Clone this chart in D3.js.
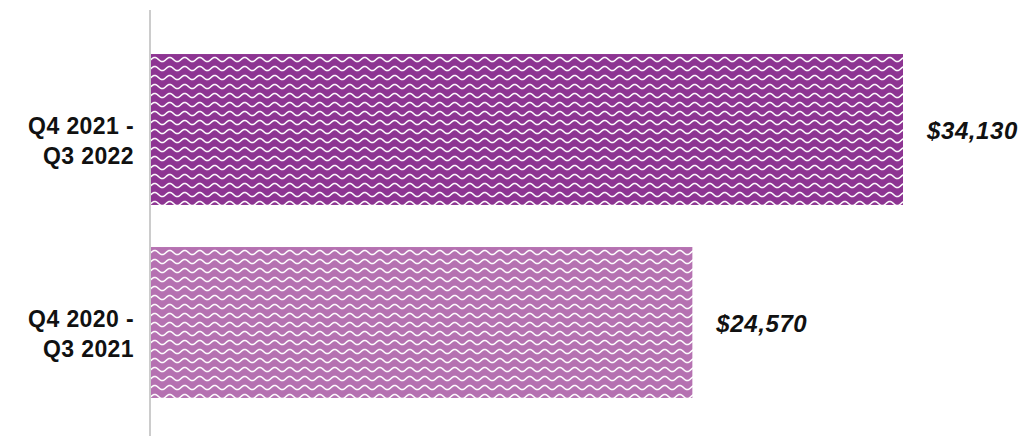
<!DOCTYPE html>
<html>
<head>
<meta charset="utf-8">
<script src="https://cdn.jsdelivr.net/npm/d3@7"></script>
<style>
  html, body { margin: 0; padding: 0; background: #fff; }
  svg { display: block; }
</style>
</head>
<body>
<svg id="chart" width="1033" height="436"></svg>
<script>
const categories = [["Q4 2021 -", "Q3 2022"], ["Q4 2020 -", "Q3 2021"]];
const categoryKeys = ["2022", "2021"];
const values = [34130, 24570];
const valueLabels = ["$34,130", "$24,570"];
const barColors = ["#8d3492", "#b571b1"];

const svg = d3.select("#chart");

const x = d3.scaleLinear().domain([0, 34130]).range([151, 903]);
const y = d3.scaleBand().domain(categoryKeys).range([33, 419]).paddingInner(0.218).paddingOuter(0.109);

// wave patterns
const defs = svg.append("defs");
const pw = 15, ph = 9;
const amp = 2.1, mid = 4.5;
const pts = d3.range(-pw, 2 * pw + 0.01, 0.5).map(t => [t, mid - amp * Math.sin(2 * Math.PI * t / pw)]);
const waveLine = d3.line();
barColors.forEach((c, i) => {
  const p = defs.append("pattern")
    .attr("id", "wave" + i)
    .attr("patternUnits", "userSpaceOnUse")
    .attr("width", pw).attr("height", ph)
    .attr("x", 151).attr("y", y(categoryKeys[i]) + 1);
  p.append("rect").attr("width", pw).attr("height", ph).attr("fill", c);
  p.append("path").attr("d", waveLine(pts)).attr("fill", "none")
    .attr("stroke", "#fff").attr("stroke-width", 1.5);
});

// bars
svg.selectAll("rect.bar").data(values).join("rect")
  .attr("class", "bar")
  .attr("x", x(0))
  .attr("y", (d, i) => y(categoryKeys[i]))
  .attr("width", d => x(d) - x(0))
  .attr("height", y.bandwidth())
  .attr("fill", (d, i) => `url(#wave${i})`);

// axis line
svg.append("line")
  .attr("x1", 150).attr("x2", 150)
  .attr("y1", 10).attr("y2", 436)
  .attr("stroke", "#cccccc").attr("stroke-width", 2);

// category labels
const font = "'Liberation Sans', Arial, Helvetica, sans-serif";
categories.forEach((lines, i) => {
  const cy = y(categoryKeys[i]) + y.bandwidth() / 2;
  const t = svg.append("text")
    .attr("text-anchor", "end")
    .attr("font-family", font)
    .attr("font-weight", "bold")
    .attr("font-size", 23)
    .attr("letter-spacing", 0.4)
    .attr("fill", "#111");
  lines.forEach((l, j) => {
    t.append("tspan").attr("x", 134).attr("y", cy + 4 + j * 30).text(l);
  });
});

// value labels
svg.selectAll("text.val").data(values).join("text")
  .attr("class", "val")
  .attr("x", d => x(d) + 24)
  .attr("y", (d, i) => y(categoryKeys[i]) + y.bandwidth() / 2 + 9)
  .attr("font-family", font)
  .attr("font-weight", "bold")
  .attr("font-style", "italic")
  .attr("font-size", 24)
  .attr("letter-spacing", 0.6)
  .attr("fill", "#111")
  .text((d, i) => valueLabels[i]);
</script>
</body>
</html>
